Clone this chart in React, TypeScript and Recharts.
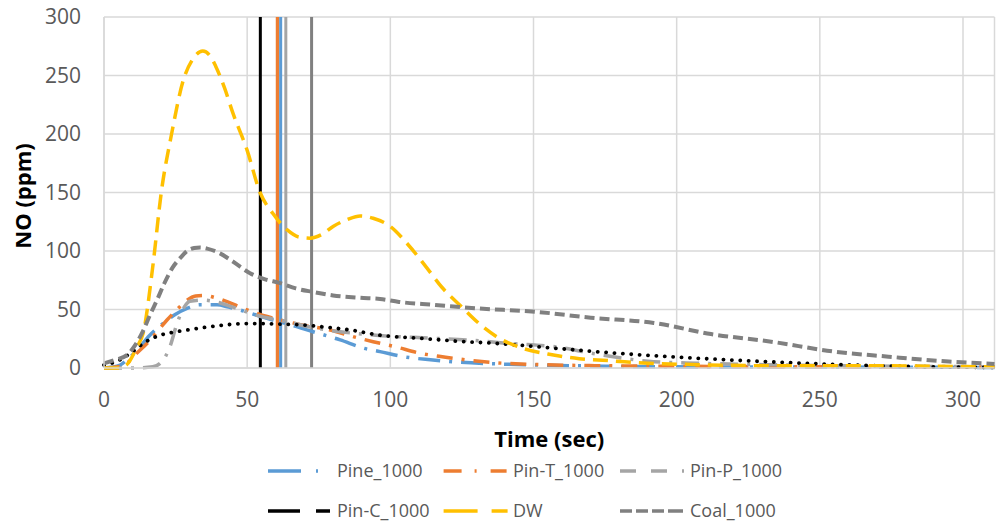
import React from 'react';
import { LineChart, Line, XAxis, YAxis, CartesianGrid, ReferenceLine, Legend } from 'recharts';

// ---- Data (time in sec, NO in ppm) ----
const xTicks = [0, 50, 100, 150, 200, 250, 300];
const yTicks = [0, 50, 100, 150, 200, 250, 300];

const pineTime = [0, 5.6, 8, 11.5, 16, 20.6, 25, 29, 33.5, 39.5, 43.5, 47.5, 53.4, 59, 65, 73, 82.5, 90.5, 96.4, 104.5, 114, 124, 137, 151, 175, 200, 250, 311];
const pineNO = [0, 2.5, 7, 15, 28, 38, 46, 51, 54, 54, 52, 49.6, 45, 41, 37, 31, 24, 17, 14, 9.7, 7, 5, 3.5, 2.6, 1.5, 1, 0.8, 0.5];

const pinTTime = [0, 5, 8, 11.5, 15, 19.6, 22, 25.5, 29, 32, 35, 39, 43, 48.6, 57, 64, 71, 79, 87, 94, 102, 110, 117, 124, 140, 171.5, 200, 250, 311];
const pinTNO = [0, 1, 4, 12.8, 21, 34, 41, 50, 58, 61.5, 62, 60, 56.7, 51, 44, 39.6, 36, 32.5, 26.8, 22.5, 18, 12.8, 10, 7.7, 4, 2, 1.5, 1, 0.8];

const pinPTime = [0, 10, 17, 19.6, 21.5, 23, 25.5, 28, 30, 34.6, 40, 45, 53.4, 64, 72, 82.5, 95, 113, 126.5, 141.5, 158, 174, 192, 208, 240, 280, 311];
const pinPNO = [0, 0, 1, 4, 10, 18, 38, 52, 57, 58, 56, 52, 45, 39.6, 35, 31, 28, 25.6, 24, 21, 18, 11, 5.4, 4, 2.5, 1.5, 1];

const pinCTime = [0, 5.6, 10, 13.7, 19.6, 24, 29, 36, 43, 50, 54.5, 61, 68.5, 77, 86, 96.4, 110, 123, 137, 157, 178, 199, 219, 240, 260, 285, 311];
const pinCNO = [2.5, 7, 14, 21, 28, 30.5, 32.5, 35, 37, 38, 38, 37.5, 37, 35, 32.5, 28, 25.5, 23, 21, 17, 12.8, 9.5, 6.8, 4.5, 2.6, 1.2, 0.5];

const dwTime = [0, 5, 8, 11.5, 13.7, 17, 20, 23.6, 27.7, 31, 34.5, 37, 39, 42, 45, 50, 54.5, 59, 64, 68, 72, 76, 80, 85, 89.5, 94, 100, 106, 112, 118, 125, 131, 137, 146, 155, 166, 178, 190, 205, 230, 260, 290, 311];
const dwNO = [0, 0, 3, 18, 30, 86, 150, 200, 246, 264, 271, 267, 258, 240, 218, 186, 150, 132, 118, 112, 111, 114, 121, 127, 130, 128, 121, 106, 88, 69, 52, 38, 27, 17, 12, 8, 6, 4, 3, 2, 2, 1.5, 1];

const coalTime = [0, 4, 8, 11, 13.7, 16, 18.5, 21, 24, 27, 29, 31.5, 33.5, 36, 40.5, 45, 51, 56, 61.5, 67, 73, 80, 89.5, 96.4, 103, 115, 130, 151, 170, 192, 212, 233, 255, 274, 295, 311];
const coalNO = [4, 7, 11, 20, 32, 45, 58, 72, 86, 95, 100, 102.5, 103, 102, 98, 91, 81, 76, 72.6, 68, 65, 62, 60, 59, 56.5, 54, 51, 48, 43, 38.5, 29, 22.5, 14, 9.7, 5.5, 3.5];

// vertical marker lines (sec)
const markerNames = ['Pin-C_1000', 'Pin-T_1000', 'Pine_1000', 'Pin-P_1000', 'Coal_1000'];
const markerTimes = [54.6, 60.6, 61.7, 63.5, 72.5];

// ---- Styles ----
const FONT = '"Open Sans", "Liberation Sans", sans-serif';
const COLORS: Record<string, string> = {
  'Pine_1000': '#5B9BD5',
  'Pin-T_1000': '#ED7D31',
  'Pin-P_1000': '#A5A5A5',
  'Pin-C_1000': '#000000',
  'DW': '#FFC000',
  'Coal_1000': '#808080',
};

const toPts = (t: number[], v: number[]) => t.map((x, i) => ({ t: x, v: v[i] }));

const series = [
  { name: 'Pine_1000', data: toPts(pineTime, pineNO), dash: '22 9 3 9', width: 3.5, cap: 'butt' },
  { name: 'Pin-T_1000', data: toPts(pinTTime, pinTNO), dash: '16 9 3 9', width: 3.5, cap: 'butt' },
  { name: 'Pin-P_1000', data: toPts(pinPTime, pinPNO), dash: '18 9 3 9', width: 3.5, cap: 'butt' },
  { name: 'Pin-C_1000', data: toPts(pinCTime, pinCNO), dash: '0.1 8.3', width: 3.8, cap: 'round' },
  { name: 'DW', data: toPts(dwTime, dwNO), dash: '15 8', width: 3.5, cap: 'butt' },
  { name: 'Coal_1000', data: toPts(coalTime, coalNO), dash: '10 5', width: 4, cap: 'butt' },
];

const legendItems = [
  { name: 'Pine_1000', col: 0, row: 0, dash: '33 15 2 200' },
  { name: 'Pin-T_1000', col: 1, row: 0, dash: '18 13 2 14 16 200' },
  { name: 'Pin-P_1000', col: 2, row: 0, dash: '16 15 16 15 2 200' },
  { name: 'Pin-C_1000', col: 0, row: 1, dash: '32 16 14 200' },
  { name: 'DW', col: 1, row: 1, dash: '34 14 16 200' },
  { name: 'Coal_1000', col: 2, row: 1, dash: '12 4 12 4 12 4 15 200' },
];
const legendColX = [268, 443.6, 620];
const legendTextX = [337, 513, 690];
const legendRowY = [31, 71];

const renderLegend = () => (
  <svg width={996} height={82} style={{ display: 'block' }}>
    {legendItems.map((it) => {
      const x0 = legendColX[it.col];
      const y = legendRowY[it.row];
      return (
        <g key={it.name}>
          <line x1={x0} x2={x0 + 64} y1={y} y2={y} stroke={COLORS[it.name]} strokeWidth={3.5} strokeDasharray={it.dash} />
          <text x={legendTextX[it.col]} y={y} dy="0.35em" fontSize={18} fill="#595959" fontFamily={FONT}>{it.name}</text>
        </g>
      );
    })}
  </svg>
);

export default function App() {
  return (
    <div style={{ position: 'absolute', left: 0, top: 0, width: 996, height: 522, background: '#fff' }}>
      <LineChart width={996} height={522} margin={{ top: 17, right: 1.5, bottom: 0, left: 0 }}>
        <CartesianGrid stroke="#d9d9d9" strokeWidth={1.5} />
        <XAxis
          dataKey="t"
          type="number"
          domain={[0, 311]}
          ticks={xTicks}
          height={154}
          tickLine={false}
          tickSize={0}
          tickMargin={24}
          axisLine={{ stroke: '#d9d9d9', strokeWidth: 1.5 }}
          tick={{ fill: '#595959', fontSize: 21, fontFamily: FONT }}
          label={{
            content: (p: any) => {
              const vb = p.viewBox || { x: 104, width: 890 };
              return (
                <text x={vb.x + vb.width / 2} y={439} dy="0.36em" textAnchor="middle" fontSize={22} fontWeight="bold" fontFamily={FONT} fill="#000">
                  Time (sec)
                </text>
              );
            },
          }}
        />
        <YAxis
          type="number"
          domain={[0, 300]}
          ticks={yTicks}
          width={104}
          tickLine={false}
          tickSize={0}
          tickMargin={23}
          axisLine={{ stroke: '#d9d9d9', strokeWidth: 1.5 }}
          tick={{ fill: '#595959', fontSize: 21, fontFamily: FONT }}
          label={{
            content: () => (
              <text x={23} y={196} dy="0.36em" textAnchor="middle" transform="rotate(-90, 23, 196)" fontSize={22} fontWeight="bold" fontFamily={FONT} fill="#000">
                NO (ppm)
              </text>
            ),
          }}
        />
        <Legend
          layout="horizontal"
          verticalAlign="middle"
          align="center"
          wrapperStyle={{ top: 440, left: 0, width: 996, height: 82 }}
          content={renderLegend}
        />
        {markerTimes.map((t, i) => (
          <ReferenceLine key={markerNames[i]} x={t} stroke={COLORS[markerNames[i]]} strokeWidth={markerNames[i] === 'Pin-T_1000' ? 3.5 : 3} ifOverflow="visible" />
        ))}
        {series.map((s) => (
          <Line
            key={s.name}
            name={s.name}
            data={s.data}
            dataKey="v"
            type="monotone"
            dot={false}
            activeDot={false}
            stroke={COLORS[s.name]}
            strokeWidth={s.width}
            strokeDasharray={s.dash}
            strokeLinecap={s.cap as any}
            isAnimationActive={false}
          />
        ))}
      </LineChart>
    </div>
  );
}
